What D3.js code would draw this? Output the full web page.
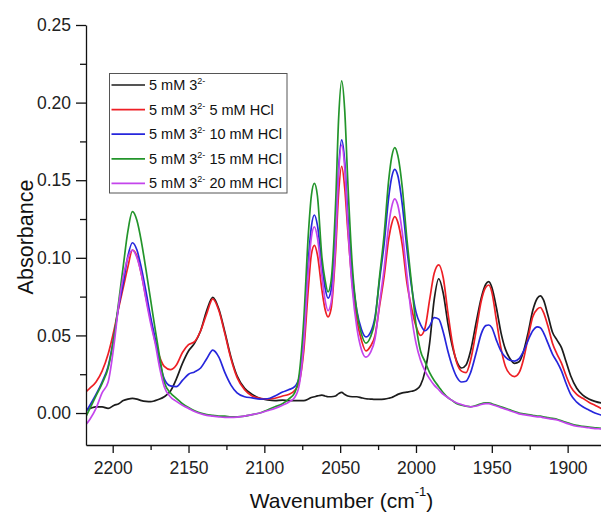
<!DOCTYPE html>
<html>
<head>
<meta charset="utf-8">
<script src="https://cdn.jsdelivr.net/npm/d3@7/dist/d3.min.js"></script>
<style>
  body { margin: 0; background: #fff; }
  svg { display: block; font-family: "Liberation Sans", Arial, Helvetica, sans-serif; }
</style>
</head>
<body>
<svg id="chart" width="601" height="513"></svg>
<script>
// IR spectra: absorbance vs wavenumber (cm-1), 5 mM 3(2-) with increasing HCl
const wavenumbers = [
  2219,2215,2211,2207,2203,2199,2196,2193,2190,2187,
  2184,2181,2178,2175,2172,2169,2166,2162,2158,2154,
  2150,2146,2142,2138,2134,2130,2126,2122,2118,2113,
  2108,2103,2098,2093,2088,2084,2080,2077,2074,2071,
  2069,2067,2065,2062,2060,2058,2056,2053,2051,2049,
  2047,2045,2042,2039,2036,2033,2030,2027,2024,2021,
  2018,2016,2014,2012,2009,2006,2003,2000,1997,1994,
  1991,1988,1985,1982,1979,1976,1973,1970,1967,1964,
  1960,1957,1954,1952,1950,1947,1944,1941,1938,1935,
  1932,1929,1926,1923,1920,1918,1916,1913,1910,1907,
  1904,1901,1898,1894,1890,1886,1882,1878,1874
];

const absNoAcid = [
  0.002,0.003,0.004,0.004,0.003,0.005,0.006,0.008,0.009,0.0095,
  0.009,0.008,0.0075,0.0073,0.008,0.009,0.0105,0.014,0.022,0.032,
  0.040,0.045,0.053,0.066,0.0745,0.067,0.052,0.036,0.024,0.016,
  0.012,0.0095,0.0085,0.008,0.0083,0.008,0.008,0.008,0.008,0.009,
  0.010,0.0105,0.011,0.0115,0.011,0.0105,0.0105,0.011,0.0125,0.0133,
  0.012,0.011,0.0105,0.0105,0.0098,0.0092,0.009,0.0088,0.0088,0.009,
  0.0095,0.010,0.011,0.012,0.013,0.0135,0.014,0.015,0.018,0.027,
  0.045,0.073,0.0865,0.077,0.058,0.043,0.033,0.029,0.031,0.040,
  0.060,0.074,0.083,0.0846,0.081,0.068,0.052,0.041,0.035,0.032,
  0.033,0.040,0.052,0.066,0.074,0.0755,0.073,0.063,0.052,0.047,
  0.042,0.033,0.024,0.016,0.0115,0.009,0.0075,0.0065,0.006
];

const absHCl5 = [
  0.0125,0.016,0.020,0.027,0.038,0.054,0.068,0.081,0.094,0.105,
  0.101,0.089,0.074,0.060,0.046,0.036,0.030,0.028,0.031,0.039,
  0.044,0.046,0.053,0.064,0.0735,0.066,0.051,0.035,0.023,0.015,
  0.011,0.0095,0.009,0.0095,0.011,0.012,0.0145,0.020,0.040,0.080,
  0.102,0.108,0.102,0.079,0.067,0.062,0.067,0.104,0.142,0.159,
  0.145,0.118,0.083,0.060,0.047,0.040,0.043,0.050,0.069,0.088,
  0.112,0.122,0.1265,0.123,0.108,0.084,0.068,0.056,0.050,0.055,
  0.073,0.090,0.0955,0.087,0.065,0.045,0.032,0.027,0.026,0.034,
  0.055,0.072,0.081,0.0825,0.078,0.060,0.042,0.030,0.025,0.0235,
  0.026,0.035,0.049,0.062,0.067,0.068,0.065,0.056,0.045,0.038,
  0.032,0.024,0.017,0.012,0.0095,0.007,0.005,0.003,0.002
];

const absHCl10 = [
  -0.0015,0.005,0.012,0.020,0.030,0.050,0.069,0.084,0.101,0.1097,
  0.105,0.093,0.078,0.062,0.048,0.033,0.022,0.0175,0.017,0.021,
  0.025,0.0265,0.029,0.035,0.0405,0.036,0.026,0.018,0.013,0.0105,
  0.0098,0.009,0.0092,0.011,0.0135,0.015,0.017,0.023,0.050,0.098,
  0.120,0.1276,0.121,0.095,0.081,0.074,0.079,0.117,0.158,0.176,
  0.162,0.128,0.089,0.066,0.054,0.049,0.052,0.062,0.086,0.109,
  0.139,0.152,0.157,0.153,0.134,0.106,0.082,0.065,0.057,0.053,
  0.056,0.0615,0.0605,0.052,0.040,0.030,0.023,0.020,0.0205,0.026,
  0.040,0.051,0.0563,0.0567,0.055,0.047,0.040,0.036,0.034,0.0335,
  0.035,0.040,0.047,0.053,0.0555,0.055,0.052,0.045,0.038,0.033,
  0.027,0.019,0.012,0.007,0.004,0.002,0.000,-0.0013,-0.002
];

const absHCl15 = [
  -0.005,0.003,0.011,0.019,0.029,0.050,0.072,0.095,0.117,0.1297,
  0.124,0.110,0.092,0.073,0.054,0.036,0.020,0.013,0.0095,0.006,
  0.0035,0.0015,0.000,-0.001,-0.0015,-0.002,-0.002,-0.0025,-0.0025,-0.002,
  -0.001,0.000,0.002,0.004,0.006,0.009,0.013,0.025,0.060,0.115,
  0.140,0.148,0.140,0.100,0.086,0.078,0.085,0.135,0.190,0.214,
  0.195,0.150,0.095,0.065,0.051,0.045,0.049,0.060,0.088,0.115,
  0.150,0.165,0.171,0.166,0.145,0.112,0.084,0.057,0.040,0.033,
  0.026,0.021,0.017,0.013,0.010,0.008,0.006,0.005,0.0045,0.004,
  0.005,0.006,0.0065,0.0066,0.006,0.005,0.004,0.003,0.002,0.001,
  0.000,-0.0005,-0.001,-0.0015,-0.002,-0.002,-0.0025,-0.003,-0.0035,-0.004,
  -0.005,-0.006,-0.007,-0.008,-0.0085,-0.009,-0.0095,-0.0099,-0.010
];

const absHCl20 = [
  -0.009,-0.004,0.003,0.013,0.020,0.045,0.070,0.088,0.100,0.105,
  0.100,0.089,0.073,0.058,0.045,0.029,0.017,0.0105,0.0075,0.005,
  0.003,0.001,-0.0005,-0.0015,-0.002,-0.0025,-0.0028,-0.0028,-0.0026,-0.002,
  -0.001,0.000,0.0015,0.003,0.005,0.007,0.010,0.018,0.045,0.092,
  0.113,0.120,0.113,0.088,0.073,0.066,0.071,0.110,0.155,0.1727,
  0.158,0.122,0.080,0.055,0.041,0.036,0.039,0.048,0.071,0.093,
  0.121,0.133,0.138,0.134,0.116,0.089,0.063,0.045,0.034,0.027,
  0.022,0.018,0.015,0.012,0.010,0.008,0.0065,0.0055,0.0045,0.004,
  0.0045,0.0055,0.006,0.006,0.0055,0.0045,0.0035,0.0025,0.0015,0.0005,
  -0.0005,-0.001,-0.0015,-0.002,-0.0025,-0.0025,-0.003,-0.0035,-0.004,-0.0045,
  -0.0055,-0.0065,-0.0075,-0.0085,-0.009,-0.0095,-0.010,-0.0102,-0.0105
];

const seriesValues = [absNoAcid, absHCl5, absHCl10, absHCl15, absHCl20];
const seriesColors = ["#1c1c1c", "#ee1f25", "#2626dc", "#23952b", "#c445ec"];
const legendSuffix = ["", " 5 mM HCl", " 10 mM HCl", " 15 mM HCl", " 20 mM HCl"];

const xTicks = [2200, 2150, 2100, 2050, 2000, 1950, 1900];
const xMinorTicks = [2175, 2125, 2075, 2025, 1975, 1925];
const yTicks = [0.00, 0.05, 0.10, 0.15, 0.20, 0.25];
const yMinorTicks = [0.025, 0.075, 0.125, 0.175, 0.225];

const svg = d3.select("#chart");
const plot = { left: 86, right: 601, top: 25, bottom: 445 };

const x = d3.scaleLinear().domain([2217.6, 1878]).range([plot.left, plot.right]);
const y = d3.scaleLinear().domain([-0.0206, 0.25]).range([plot.bottom, plot.top]);

svg.append("defs").append("clipPath").attr("id", "plot-clip")
  .append("rect")
  .attr("x", plot.left).attr("y", 0)
  .attr("width", plot.right - plot.left).attr("height", plot.bottom);

// spectra
const line = d3.line()
  .x(d => x(d[0]))
  .y(d => y(d[1]))
  .curve(d3.curveMonotoneX);

const curves = svg.append("g").attr("clip-path", "url(#plot-clip)");
seriesValues.forEach((vals, i) => {
  curves.append("path")
    .datum(wavenumbers.map((w, j) => [w, vals[j]]))
    .attr("fill", "none")
    .attr("stroke", seriesColors[i])
    .attr("stroke-width", 1.7)
    .attr("stroke-linejoin", "round")
    .attr("d", line);
});

// axes
function styleAxis(g) {
  g.selectAll("path.domain").attr("stroke", "#111").attr("stroke-width", 1.3);
  g.selectAll(".tick line").attr("stroke", "#111").attr("stroke-width", 1.3);
  g.selectAll(".tick text").attr("fill", "#222").style("font-size", "17.5px");
}

const xAxisG = svg.append("g").attr("transform", `translate(0,${plot.bottom})`)
  .call(d3.axisBottom(x).tickValues(xTicks).tickFormat(d3.format("d"))
    .tickSize(8).tickSizeOuter(0).tickPadding(9));
styleAxis(xAxisG);

const xMinorG = svg.append("g").attr("transform", `translate(0,${plot.bottom})`)
  .call(d3.axisBottom(x).tickValues(xMinorTicks).tickFormat("").tickSize(5).tickSizeOuter(0));
xMinorG.select("path.domain").remove();
styleAxis(xMinorG);

const yAxisG = svg.append("g").attr("transform", `translate(${plot.left},0)`)
  .call(d3.axisLeft(y).tickValues(yTicks).tickFormat(d3.format(".2f"))
    .tickSize(10).tickSizeOuter(0).tickPadding(5));
styleAxis(yAxisG);

const yMinorG = svg.append("g").attr("transform", `translate(${plot.left},0)`)
  .call(d3.axisLeft(y).tickValues(yMinorTicks).tickFormat("").tickSize(6).tickSizeOuter(0));
yMinorG.select("path.domain").remove();
styleAxis(yMinorG);

// axis titles
const xTitle = svg.append("text")
  .attr("x", 341.5).attr("y", 508)
  .attr("text-anchor", "middle")
  .attr("fill", "#111")
  .style("font-size", "21px");
xTitle.append("tspan").text("Wavenumber (cm");
xTitle.append("tspan").attr("dy", -12).style("font-size", "13px").text("-1");
xTitle.append("tspan").attr("dy", 12).text(")");

svg.append("text")
  .attr("transform", "translate(33,237) rotate(-90)")
  .attr("text-anchor", "middle")
  .attr("fill", "#111")
  .style("font-size", "21.5px")
  .text("Absorbance");

// legend
const legend = svg.append("g");
legend.append("rect")
  .attr("x", 109.5).attr("y", 73.5)
  .attr("width", 177.5).attr("height", 119.5)
  .attr("fill", "#fff")
  .attr("stroke", "#555")
  .attr("stroke-width", 1);

seriesColors.forEach((c, i) => {
  const ry = 85 + i * 24.6;
  legend.append("line")
    .attr("x1", 111.5).attr("x2", 145)
    .attr("y1", ry).attr("y2", ry)
    .attr("stroke", c).attr("stroke-width", 1.7);
  const t = legend.append("text")
    .attr("x", 149).attr("y", ry + 5)
    .attr("fill", "#111")
    .style("font-size", "14.5px");
  t.append("tspan").text("5 mM 3");
  t.append("tspan").attr("dy", -6).style("font-size", "9px").text("2-");
  t.append("tspan").attr("dy", 6).text(legendSuffix[i]);
});
</script>
</body>
</html>
